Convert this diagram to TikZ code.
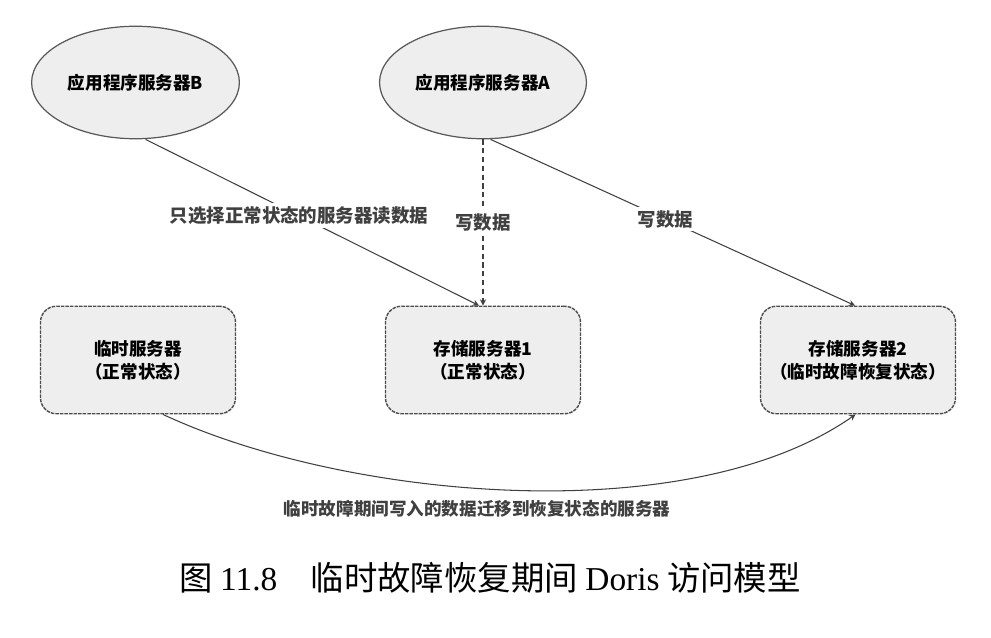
\documentclass[tikz,border=0pt]{standalone}
\usepackage{fontspec}
\setmainfont{Noto Sans CJK SC}
\newfontfamily\capserif{Liberation Serif}
\usetikzlibrary{shapes,arrows,positioning}
\tikzstyle{app} = [ellipse, draw=black!65, line width=0.7pt, fill=gray!13, minimum width=3.7cm, minimum height=2.25cm, font=\bfseries\fontsize{10}{12}\selectfont]
\tikzstyle{server} = [rectangle, rounded corners=9pt, draw=black!70, line width=0.8pt, dash pattern=on 2pt off 0.6pt, fill=gray!13, minimum width=3.9cm, minimum height=2.15cm, align=center, font=\bfseries\fontsize{10}{13}\selectfont]
\tikzstyle{arrow} = [black!75, line width=0.6pt, ->, >=stealth]
\tikzstyle{lbl} = [fill=white, inner sep=2pt, font=\bfseries\fontsize{10.5}{12}\selectfont]

\begin{document}
\begin{tikzpicture}
    \useasboundingbox (0,0) rectangle (19.82,-12.76);
    % Servers
    \node [server] (tmp) at (2.76,-7.2) {临时服务器\\（正常状态）};
    \node [server, right of=tmp, node distance=6.9cm] (store1) {存储服务器1\\（正常状态）};
    \node [server, right of=store1, node distance=7.5cm] (store2) {存储服务器2\\（临时故障恢复状态）};
    \node [app, above of=store1, node distance=5.55cm] (appA) {应用程序服务器A};
    \node [app, left of=appA, node distance=6.95cm] (appB) {应用程序服务器B};

    % Access
    \draw [arrow] ([xshift=0.2cm]appB.south) -- node[lbl, pos=0.46] {只选择正常状态的服务器读数据} ([xshift=-0.08cm]store1.north);
    \draw [arrow, densely dashed] (appA.south) -- node[lbl] {写数据} (store1.north);
    \draw [arrow] ([xshift=0.15cm]appA.south) -- node[lbl, pos=0.48] {写数据} ([xshift=-0.06cm]store2.north);
    \draw [arrow] ([xshift=0.5cm]tmp.south) to[out=-25, in=-145, looseness=0.75] node[below=3pt, pos=0.45, font=\bfseries\fontsize{10}{12}\selectfont] {临时故障期间写入的数据迁移到恢复状态的服务器} ([xshift=-0.05cm]store2.south);

    % Caption
    \node [font=\fontsize{19}{22}\selectfont] (cap) at (9.8,-11.56) {图 {\capserif 11.8}\quad 临时故障恢复期间 {\capserif Doris} 访问模型};
\end{tikzpicture}
\end{document}
